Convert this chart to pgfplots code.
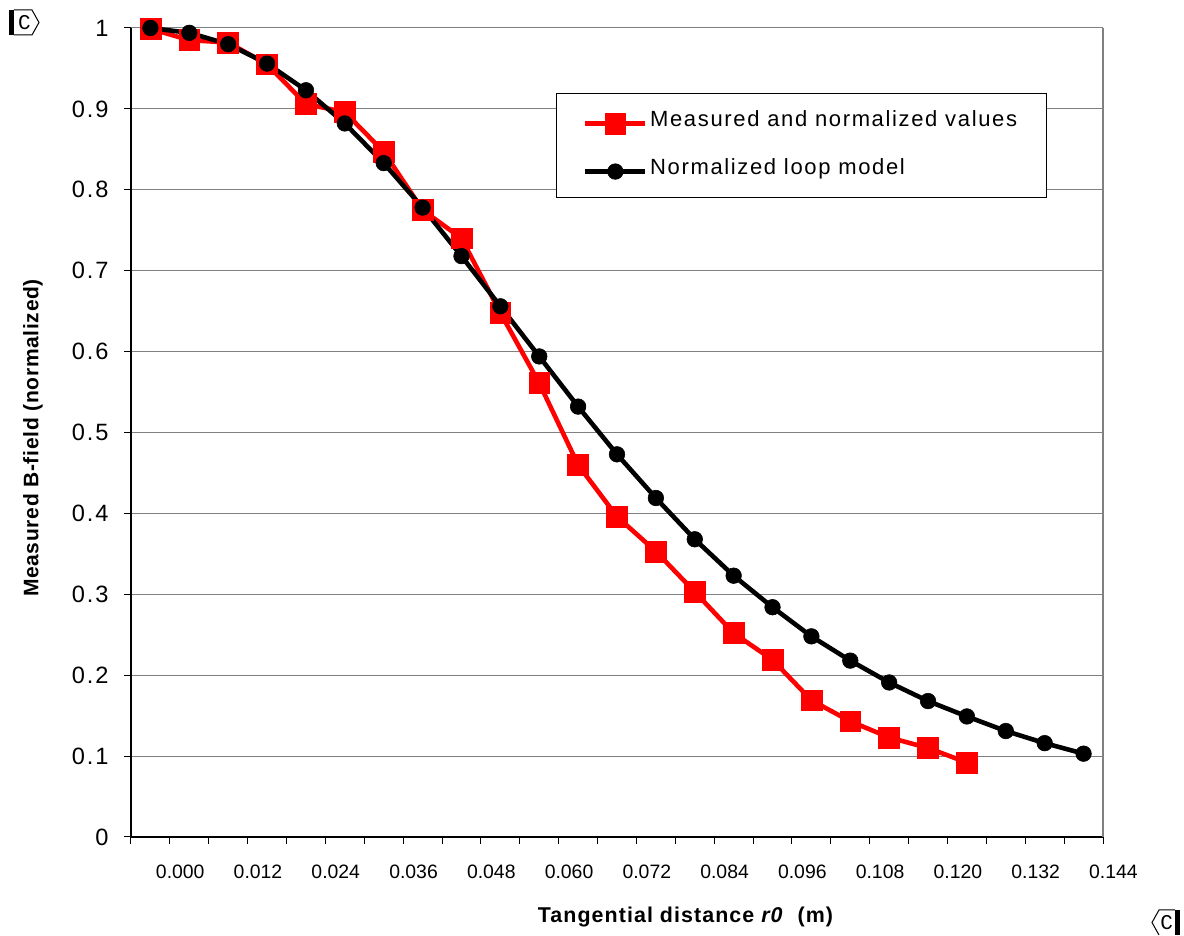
\documentclass[border=0pt]{standalone}
\usepackage{fontspec}
\setmainfont{Liberation Sans}
\newfontfamily\ytickfont[LetterSpace=8]{Liberation Sans}
\newfontfamily\legfont[LetterSpace=7.5]{Liberation Sans}
\newfontfamily\xlabfont[LetterSpace=5]{Liberation Sans}
\newfontfamily\ylabfont[LetterSpace=3.3]{Liberation Sans}
\newfontfamily\cfont{Liberation Mono}
\usepackage{pgfplots}
\pgfplotsset{compat=1.18}
\begin{document}
\begin{tikzpicture}
\begin{axis}[
  name=ax, at={(0,0)}, anchor=south west,
  width=486pt, height=404.5pt, scale only axis,
  xmin=-0.009, xmax=0.141, ymin=0, ymax=1,
  clip=false,
  axis lines=left,
  axis line style={-, black, line width=0.8pt},
  /pgf/number format/assume math mode=true,
  ytick={0,0.1,0.2,0.3,0.4,0.5,0.6,0.7,0.8,0.9,1},
  ymajorgrids,
  grid style={gray, line width=0.5pt},
  tick align=outside,
  major tick length=3.6pt,
  tick style={black, line width=0.5pt},
  xtick={-0.009,-0.003,0.003,0.009,0.015,0.021,0.027,0.033,0.039,0.045,0.051,0.057,0.063,0.069,0.075,0.081,0.087,0.093,0.099,0.105,0.111,0.117,0.123,0.129,0.135,0.141},
  xticklabels={},
  extra x ticks={-0.0074,0.0046,0.0166,0.0286,0.0406,0.0526,0.0646,0.0766,0.0886,0.1006,0.1126,0.1246,0.1366},
  extra x tick labels={0.000,0.012,0.024,0.036,0.048,0.060,0.072,0.084,0.096,0.108,0.120,0.132,0.144},
  extra x tick style={major tick length=0pt,
    xticklabel style={font=\fontsize{9.7}{11}\selectfont, anchor=base, inner sep=0pt, yshift=-20.65pt, xshift=19.44pt}},
  yticklabel style={font=\ytickfont\fontsize{11.8}{13}\selectfont, anchor=east, inner sep=0pt, xshift=-7.5pt},
  xlabel={Tangential distance \textit{r0}\ \ (m)},
  xlabel style={font=\xlabfont\bfseries\fontsize{10.7}{12}\selectfont, at={(rel axis cs:0.5705,-0.1059)}, anchor=base, inner sep=0pt},
  ylabel={Measured B-field (normalized)},
  ylabel style={font=\ylabfont\bfseries\fontsize{10.5}{12}\selectfont, at={(rel axis cs:-0.1008,0.4932)}, anchor=center, inner sep=0pt},
  legend style={at={(0.4372,0.9197)}, anchor=north west, draw=black, line width=0.6pt, fill=white,
    inner xsep=13.25pt, inner ysep=7.75pt, row sep=11.5pt,
    font=\legfont\fontsize{11}{13}\selectfont,
    nodes={inner sep=1.25pt, text height=7.5pt, text depth=2.5pt}},
  legend cell align=left,
  legend image code/.code={\draw[mark repeat=2,mark phase=2,#1] plot coordinates {(0pt,-1pt) (15pt,-1pt) (30pt,-1pt)};},
  after end axis/.code={\draw[gray, line width=0.7pt] (rel axis cs:1,0) -- (rel axis cs:1,1);},
]
\addplot[red, line width=2.3pt, mark=square*, mark size=5.2pt, mark options={solid, fill=red, draw=red, line width=0.3pt}] coordinates {
(-0.006,0.999) (0.000,0.985) (0.006,0.982) (0.012,0.955) (0.018,0.906) (0.024,0.896)
(0.030,0.847) (0.036,0.775) (0.042,0.740) (0.048,0.648) (0.054,0.561) (0.060,0.460)
(0.066,0.396) (0.072,0.353) (0.078,0.303) (0.084,0.252) (0.090,0.219) (0.096,0.169)
(0.102,0.143) (0.108,0.123) (0.114,0.110) (0.120,0.092)
};
\addlegendentry{Measured and normalized values}
\addplot[black, line width=2.3pt, mark=*, mark size=3.9pt, mark options={solid, fill=black, line width=0.3pt}] coordinates {
(-0.006,1.000) (0.000,0.994) (0.006,0.980) (0.012,0.956) (0.018,0.923) (0.024,0.882)
(0.030,0.833) (0.036,0.778) (0.042,0.718) (0.048,0.656) (0.054,0.594) (0.060,0.532)
(0.066,0.473) (0.072,0.419) (0.078,0.368) (0.084,0.323) (0.090,0.284) (0.096,0.248)
(0.102,0.218) (0.108,0.191) (0.114,0.168) (0.120,0.149) (0.126,0.131) (0.132,0.116)
(0.138,0.103)
};
\addlegendentry{Normalized loop model}
\end{axis}
% corner markers
\begin{scope}[x=1pt, y=1pt]
\fill[black] (-61,401) rectangle (-58.5,413.5);
\draw[black, line width=0.5pt] (-58.5,413.5) -- (-49.5,413.5) -- (-46,407.25) -- (-49.5,401) -- (-58.5,401);
\node[font=\cfont\fontsize{10.5}{11}\selectfont, inner sep=0pt] at (-53.3,407.25) {C};
\fill[black] (522,-36.5) rectangle (524.5,-49);
\draw[black, line width=0.5pt] (522,-36.5) -- (514,-36.5) -- (510.5,-42.75) -- (514,-49);
\node[font=\cfont\fontsize{10.5}{11}\selectfont, inner sep=0pt] at (517.8,-42.75) {C};
\end{scope}
\path[use as bounding box] (-65.5pt,-47pt) rectangle (526.5pt,418.5pt);
\end{tikzpicture}
\end{document}
